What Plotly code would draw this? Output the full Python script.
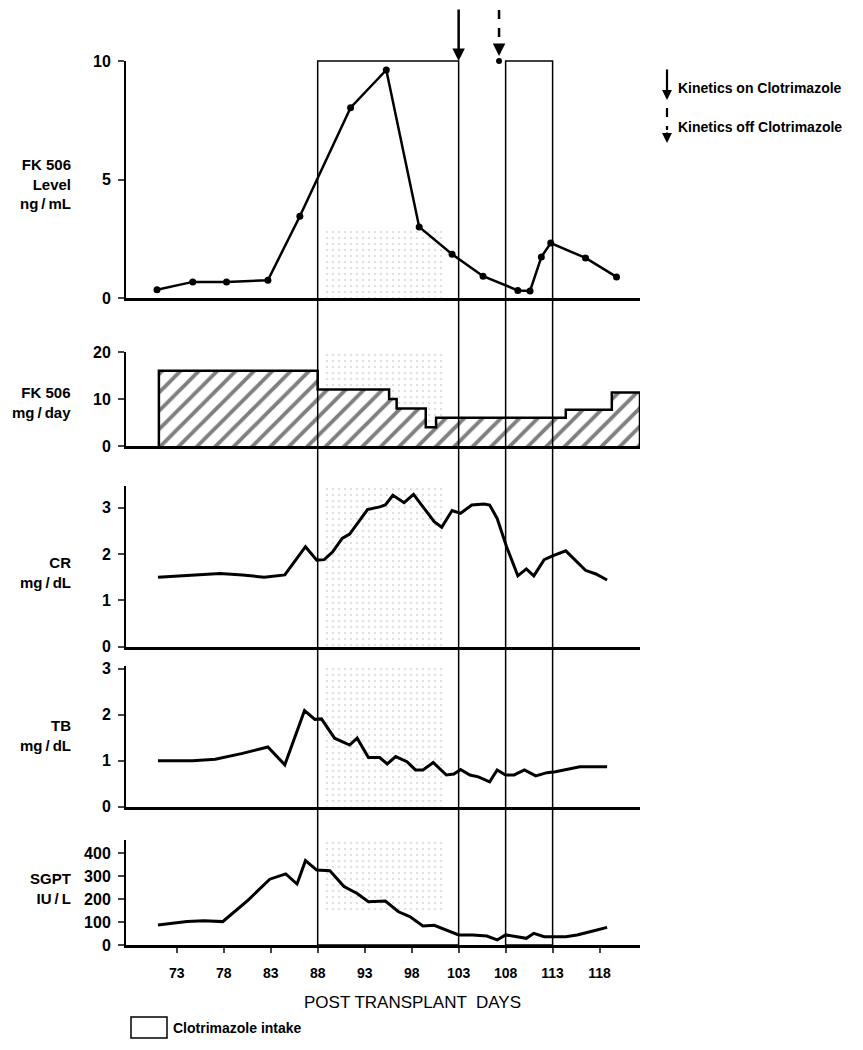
import plotly.graph_objects as go

W, H = 863, 1050

# FK 506 blood level, ng/mL
level_days = [70.9, 74.7, 78.3, 82.7, 86.1, 91.5, 95.3, 98.8, 102.3, 105.6,
              109.3, 110.6, 111.8, 112.8, 116.5, 119.8]
level_vals = [0.35, 0.68, 0.68, 0.75, 3.45, 8.03, 9.62, 3.0, 1.85, 0.92,
              0.32, 0.30, 1.73, 2.32, 1.69, 0.89]

# FK 506 dose, mg/day (step changes)
dose_days = [71.1, 88.0, 95.6, 96.4, 99.5, 100.6, 114.4, 119.3]
dose_vals = [16, 12, 10, 8, 4, 6, 7.7, 11.4]
dose_end = 122.3

# creatinine, mg/dL
cr_days = [71.0, 73.5, 77.6, 80.0, 82.3, 84.5, 86.7, 87.9, 88.7, 89.6, 90.6,
           91.4, 92.2, 93.3, 94.6, 95.2, 96.0, 97.2, 98.2, 99.2, 100.4, 101.2,
           102.3, 103.2, 104.4, 105.7, 106.3, 107.1, 108.1, 109.3, 110.2,
           111.0, 112.1, 113.0, 114.4, 116.5, 117.6, 118.8]
cr_vals = [1.50, 1.53, 1.58, 1.55, 1.50, 1.55, 2.16, 1.87, 1.88, 2.05, 2.34,
           2.43, 2.66, 2.96, 3.02, 3.06, 3.27, 3.11, 3.29, 3.02, 2.70, 2.58,
           2.94, 2.88, 3.06, 3.08, 3.06, 2.77, 2.16, 1.53, 1.68, 1.53, 1.88,
           1.96, 2.07, 1.65, 1.57, 1.44]

# total bilirubin, mg/dL
tb_days = [71.0, 74.7, 77.1, 80.0, 82.7, 84.5, 86.6, 87.7, 88.4, 89.8, 91.4,
           92.2, 93.4, 94.6, 95.4, 96.3, 97.5, 98.4, 99.2, 100.3, 101.7, 102.5,
           103.2, 104.2, 105.1, 106.3, 107.1, 108.0, 108.9, 110.0, 111.2,
           112.4, 113.3, 114.4, 115.9, 117.3, 118.8]
tb_vals = [1.0, 1.0, 1.03, 1.16, 1.30, 0.91, 2.09, 1.90, 1.91, 1.49, 1.34,
           1.49, 1.07, 1.07, 0.93, 1.09, 0.98, 0.80, 0.80, 0.96, 0.69, 0.71,
           0.81, 0.69, 0.65, 0.54, 0.80, 0.69, 0.69, 0.80, 0.67, 0.74, 0.76,
           0.80, 0.87, 0.87, 0.87]

# SGPT, IU/L
sgpt_days = [71.0, 74.1, 75.9, 77.9, 78.1, 80.6, 82.9, 84.6, 85.8, 86.7, 87.9,
             89.3, 90.8, 92.2, 93.4, 95.2, 96.6, 97.8, 99.2, 100.4, 103.0,
             104.5, 106.0, 107.1, 108.0, 109.5, 110.2, 111.0, 112.1, 114.4,
             115.6, 117.3, 118.8]
sgpt_vals = [87, 102, 106, 102, 109, 196, 287, 310, 266, 368, 327, 324, 255,
             225, 189, 192, 145, 124, 83, 86, 44, 44, 39, 22, 44, 33, 29, 51,
             36, 36, 44, 61, 77]

day_ticks = [73, 78, 83, 88, 93, 98, 103, 108, 113, 118]
clotrimazole_periods = [(88, 103), (108, 113)]
kinetics_on_day = 103
kinetics_off_day = 107.3

FONT = "Liberation Sans Narrow, Arial Narrow, Liberation Sans, Arial, sans-serif"
BLACK = "black"
PAGE_PAD = 8  # default body margin of the html page
TS = "\u2009"  # thin space around the slashes


def py(p):
    return 1 - (p - PAGE_PAD) / H


def px(p):
    return (p - PAGE_PAD) / W


X_DOMAIN = [px(126), px(640)]
X_RANGE = [67.6, 122.3]

# panel: y range, ticks, pixel bottom/top, label, label centre, stipple span
panels = [
    ([0, 10], [0, 5, 10], 298, 61, f"FK 506<br>Level<br>ng{TS}/{TS}mL", 184, (0, 3)),
    ([0, 20], [0, 10, 20], 446, 352, f"FK 506<br>mg{TS}/{TS}day", 402, (0, 20)),
    ([0, 3.47], [0, 1, 2, 3], 646.7, 486, f"CR<br>mg{TS}/{TS}dL", 572, (0, 3.47)),
    ([0, 3.06], [0, 1, 2, 3], 806.7, 666, f"TB<br>mg{TS}/{TS}dL", 735, (0, 3.06)),
    ([0, 458], [0, 100, 200, 300, 400], 945, 840, f"SGPT<br>IU{TS}/{TS}L", 888, (150, 458)),
]

fig = go.Figure()

line = dict(color=BLACK, width=3)

# faint stipple inside the first clotrimazole period
s0, s1 = clotrimazole_periods[0][0] + 0.6, clotrimazole_periods[0][1] - 1.5
for i, p in enumerate(panels, start=1):
    suffix = "" if i == 1 else str(i)
    lo, hi = p[6]
    fig.add_trace(go.Scatter(
        x=[s0, s1, s1, s0, s0], y=[lo, lo, hi, hi, lo], mode="none",
        fill="toself", fillcolor="rgba(0,0,0,0)",
        fillpattern=dict(shape=".", fgcolor="#c4c4c4", bgcolor="rgba(0,0,0,0)",
                         size=6, solidity=0.15),
        hoverinfo="skip", xaxis="x" + suffix, yaxis="y" + suffix))

fig.add_trace(go.Scatter(x=level_days, y=level_vals, mode="lines+markers",
                         line=dict(color=BLACK, width=2.5),
                         marker=dict(color=BLACK, size=7),
                         xaxis="x", yaxis="y"))

step_x = [dose_days[0]] + dose_days + [dose_end, dose_end]
step_y = [0] + dose_vals + [dose_vals[-1], 0]
fig.add_trace(go.Scatter(x=step_x, y=step_y, mode="lines", line_shape="hv",
                         line=dict(color=BLACK, width=2.5),
                         fill="tozeroy", fillcolor="white",
                         fillpattern=dict(shape="/", fgcolor=BLACK, bgcolor="white",
                                          size=13, solidity=0.3),
                         xaxis="x2", yaxis="y2"))

fig.add_trace(go.Scatter(x=cr_days, y=cr_vals, mode="lines", line=line,
                         xaxis="x3", yaxis="y3"))
fig.add_trace(go.Scatter(x=tb_days, y=tb_vals, mode="lines", line=line,
                         xaxis="x4", yaxis="y4"))
fig.add_trace(go.Scatter(x=sgpt_days, y=sgpt_vals, mode="lines", line=line,
                         xaxis="x5", yaxis="y5"))

layout = dict(
    width=W, height=H,
    margin=dict(l=0, r=0, t=0, b=0, autoexpand=False),
    paper_bgcolor="white", plot_bgcolor="rgba(0,0,0,0)",
    showlegend=False,
    font=dict(family=FONT, color=BLACK, size=15),
)

annotations = []
for i, (yr, tv, pb, pt, label, ly, _) in enumerate(panels, start=1):
    suffix = "" if i == 1 else str(i)
    last = i == len(panels)
    layout["xaxis" + suffix] = dict(
        domain=X_DOMAIN, range=X_RANGE, anchor="y" + suffix, automargin=False,
        showline=True, linecolor=BLACK, linewidth=3,
        showgrid=False, zeroline=False,
        ticks="outside" if last else "", ticklen=5, tickwidth=2,
        tickvals=day_ticks if last else [], showticklabels=last,
        ticklabelstandoff=8,
        tickfont=dict(family=FONT, size=14, weight="bold"),
    )
    if i > 1:
        layout["xaxis" + suffix]["matches"] = "x"
    layout["yaxis" + suffix] = dict(
        domain=[py(pb), py(pt)], range=yr, anchor="x" + suffix, automargin=False,
        showline=True, linecolor=BLACK, linewidth=2,
        showgrid=False, zeroline=False,
        ticks="outside", ticklen=6, tickwidth=2, tickvals=tv,
        ticklabelstandoff=4,
        tickfont=dict(family=FONT, size=16, weight="bold"),
    )
    annotations.append(dict(
        text=label, xref="paper", yref="paper", x=px(73), y=py(ly),
        xanchor="right", yanchor="middle", align="right", showarrow=False,
        font=dict(family=FONT, size=15, weight="bold"),
    ))

top = py(61)
bottom = py(945)
shapes = []
for d0, d1 in clotrimazole_periods:
    shapes.append(dict(type="rect", xref="x", yref="paper", x0=d0, x1=d1,
                       y0=bottom, y1=top, line=dict(color=BLACK, width=1.5)))

# kinetics arrows
annotations.append(dict(x=kinetics_on_day, xref="x", y=py(61), yref="paper",
                        ax=0, ay=-53, showarrow=True, arrowhead=2, arrowsize=1,
                        arrowwidth=2.5, arrowcolor=BLACK, text=""))
shapes.append(dict(type="line", xref="x", yref="paper",
                   x0=kinetics_off_day, x1=kinetics_off_day, y0=py(10), y1=py(44),
                   line=dict(color=BLACK, width=2.5, dash="dash")))
annotations.append(dict(x=kinetics_off_day, xref="x", y=py(56), yref="paper",
                        ax=0, ay=-12, showarrow=True, arrowhead=2, arrowsize=1,
                        arrowwidth=2.5, arrowcolor=BLACK, text=""))
fig.add_trace(go.Scatter(x=[kinetics_off_day], y=[10], mode="markers",
                         marker=dict(color=BLACK, size=6), cliponaxis=False,
                         xaxis="x", yaxis="y"))

# legend for arrows
annotations.append(dict(x=px(667), xref="paper", y=py(100), yref="paper",
                        ax=0, ay=-32, showarrow=True, arrowhead=2, arrowsize=0.9,
                        arrowwidth=2.2, arrowcolor=BLACK, text=""))
annotations.append(dict(text="Kinetics on Clotrimazole", x=px(676), y=py(88),
                        xref="paper", yref="paper", xanchor="left",
                        yanchor="middle", showarrow=False,
                        font=dict(family=FONT, size=14, weight="bold")))
shapes.append(dict(type="line", xref="paper", yref="paper", x0=px(667), x1=px(667),
                   y0=py(108), y1=py(130), line=dict(color=BLACK, width=2.2, dash="dash")))
annotations.append(dict(x=px(667), xref="paper", y=py(143), yref="paper",
                        ax=0, ay=-12, showarrow=True, arrowhead=2, arrowsize=0.9,
                        arrowwidth=2.2, arrowcolor=BLACK, text=""))
annotations.append(dict(text="Kinetics off Clotrimazole", x=px(676), y=py(127),
                        xref="paper", yref="paper", xanchor="left",
                        yanchor="middle", showarrow=False,
                        font=dict(family=FONT, size=14, weight="bold")))

# x title and clotrimazole legend
annotations.append(dict(text="POST TRANSPLANT  DAYS", x=px(412), y=py(1002),
                        xref="paper", yref="paper", xanchor="center",
                        yanchor="middle", showarrow=False,
                        font=dict(family=FONT, size=17)))
shapes.append(dict(type="rect", xref="paper", yref="paper", x0=px(131), x1=px(167),
                   y0=py(1038), y1=py(1017), line=dict(color=BLACK, width=1.5)))
annotations.append(dict(text="Clotrimazole intake", x=px(171), y=py(1028),
                        xref="paper", yref="paper", xanchor="left",
                        yanchor="middle", showarrow=False,
                        font=dict(family=FONT, size=14, weight="bold")))

layout["annotations"] = annotations
layout["shapes"] = shapes
fig.update_layout(**layout)

fig.write_html("out.html")
